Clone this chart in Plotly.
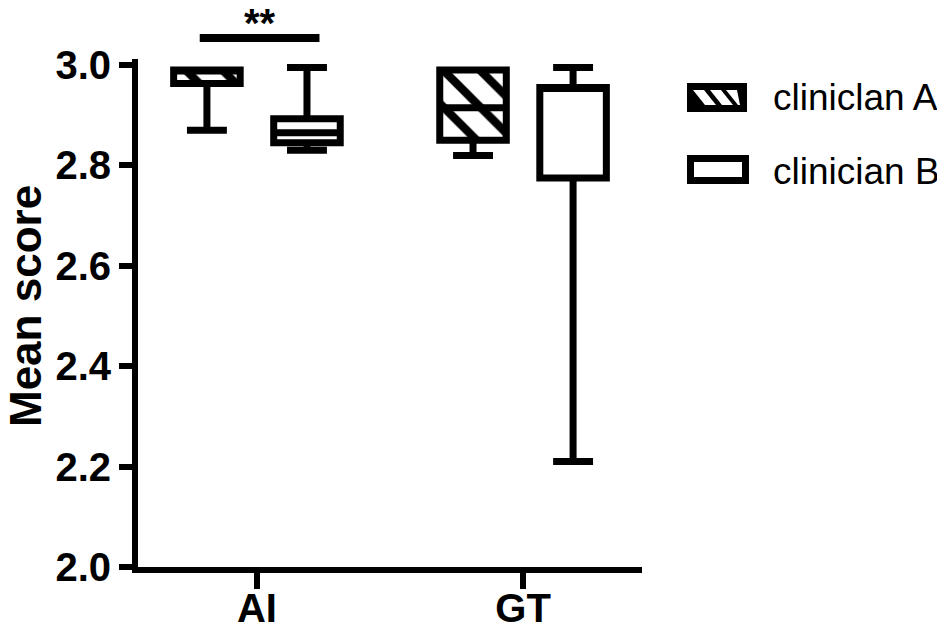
import plotly.graph_objects as go

# ---- data ----
categories = ["AI", "GT"]
series_names = ["cliniclan A", "clinician B"]

a_lower = [2.87, 2.82]
a_q1 = [2.963, 2.85]
a_median = [2.99, 2.915]
a_q3 = [2.99, 2.99]
a_upper = [2.99, 2.99]

b_lower = [2.83, 2.21]
b_q1 = [2.845, 2.775]
b_median = [2.865, 2.955]
b_q3 = [2.893, 2.955]
b_upper = [2.995, 2.995]

y_title = "Mean score"
sig_label = "**"
sig_level = 3.054
sig_x = [-0.215, 0.235]
y_ticks = [2.0, 2.2, 2.4, 2.6, 2.8, 3.0]
y_range = [2.0, 3.012]

# ---- layout geometry (pixels); page body adds an 8px margin ----
W, H = 945, 632
OFF = 8
SL, SR, ST, SB = 138, 642, 59, 567          # plot area as seen on screen
PL, PR, PT, PB = SL - OFF, SR - OFF, ST - OFF, SB - OFF
FONT = "Liberation Sans, Arial, sans-serif"


def px(x):
    return (x - SL) / (SR - SL)


def py(y):
    return (SB - y) / (SB - ST)


def yv(v):
    # data value -> paper fraction
    return (v - y_range[0]) / (y_range[1] - y_range[0])


fig = go.Figure()

# hatch fill for clinician A boxes
fig.add_trace(go.Bar(
    x=categories,
    base=a_q1,
    y=[q3 - q1 for q1, q3 in zip(a_q1, a_q3)],
    width=0.25, offset=-0.313,
    marker=dict(color="white", line=dict(width=0),
                pattern=dict(shape="\\", fgcolor="black", bgcolor="white",
                             size=26, solidity=0.32, fillmode="replace",
                             fgopacity=1)),
    showlegend=False, hoverinfo="skip",
))

fig.add_trace(go.Box(
    name=series_names[0], x=categories,
    q1=a_q1, median=a_median, q3=a_q3, lowerfence=a_lower, upperfence=a_upper,
    line=dict(color="black", width=7), fillcolor="rgba(0,0,0,0)",
    whiskerwidth=0.6, boxpoints=False, showlegend=False,
))
fig.add_trace(go.Box(
    name=series_names[1], x=categories,
    q1=b_q1, median=b_median, q3=b_q3, lowerfence=b_lower, upperfence=b_upper,
    line=dict(color="black", width=7), fillcolor="white",
    whiskerwidth=0.6, boxpoints=False, showlegend=False,
))

# significance bracket and stars (above the plot area)
shapes = [dict(type="line", xref="x", yref="paper",
               x0=sig_x[0], x1=sig_x[1], y0=yv(sig_level), y1=yv(sig_level),
               line=dict(color="black", width=8))]
fig.add_annotation(x=0.01, y=yv(sig_level), xref="x", yref="paper",
                   text=sig_label, showarrow=False, yanchor="bottom", yshift=-9,
                   font=dict(family=FONT, size=40, color="black", weight="bold"))

# y-axis title as a rotated annotation
fig.add_annotation(x=px(25), y=py(306), xref="paper", yref="paper",
                   text=y_title, textangle=-90, showarrow=False,
                   xanchor="center", yanchor="middle",
                   font=dict(family=FONT, size=44, color="black", weight="bold"))

# ---- manual legend ----
shapes.append(dict(type="rect", xref="paper", yref="paper",
                   x0=px(687), x1=px(747), y0=py(112), y1=py(83),
                   fillcolor="black", line=dict(width=0)))
ytop, ybot = 90, 105
for xs in (693, 710, 726):
    x0t, x1t = xs, min(xs + 11, 740)
    x0b, x1b = min(xs + 12, 740), min(xs + 23, 740)
    path = (f"M {px(x0t)} {py(ytop)} L {px(x1t)} {py(ytop)} "
            f"L {px(x1b)} {py(ybot)} L {px(x0b)} {py(ybot)} Z")
    shapes.append(dict(type="path", xref="paper", yref="paper", path=path,
                       fillcolor="white", line=dict(width=0)))
shapes.append(dict(type="rect", xref="paper", yref="paper",
                   x0=px(690.5), x1=px(745.5), y0=py(180.5), y1=py(158.5),
                   fillcolor="white", line=dict(color="black", width=7)))
fig.update_layout(shapes=shapes)

for name, yc in zip(series_names, (98, 171)):
    fig.add_annotation(x=px(771), y=py(yc), xref="paper", yref="paper",
                       text=name, showarrow=False, xanchor="left", yanchor="middle",
                       font=dict(family=FONT, size=37, color="black"))

fig.update_layout(
    width=W, height=H,
    margin=dict(l=PL, r=W - PR, t=PT, b=H - PB, pad=0, autoexpand=False),
    plot_bgcolor="white", paper_bgcolor="white",
    boxmode="group", boxgap=0.248, boxgroupgap=0.335,
    showlegend=False,
    font=dict(family=FONT, color="black"),
)
fig.update_xaxes(
    type="category", range=[-0.447, 1.447], automargin=True,
    showline=True, linecolor="black", linewidth=6,
    ticks="outside", ticklen=16, tickwidth=6, tickcolor="black",
    ticklabelstandoff=-15,
    tickfont=dict(family=FONT, size=40, color="black", weight="bold"),
    showgrid=False, zeroline=False,
)
fig.update_yaxes(
    range=y_range, tickvals=y_ticks, tickformat=".1f", automargin=True,
    showline=True, linecolor="black", linewidth=6,
    ticks="outside", ticklen=13, tickwidth=6, tickcolor="black",
    tickfont=dict(family=FONT, size=40, color="black", weight="bold"),
    showgrid=False, zeroline=False,
)

fig.write_html("out.html")
